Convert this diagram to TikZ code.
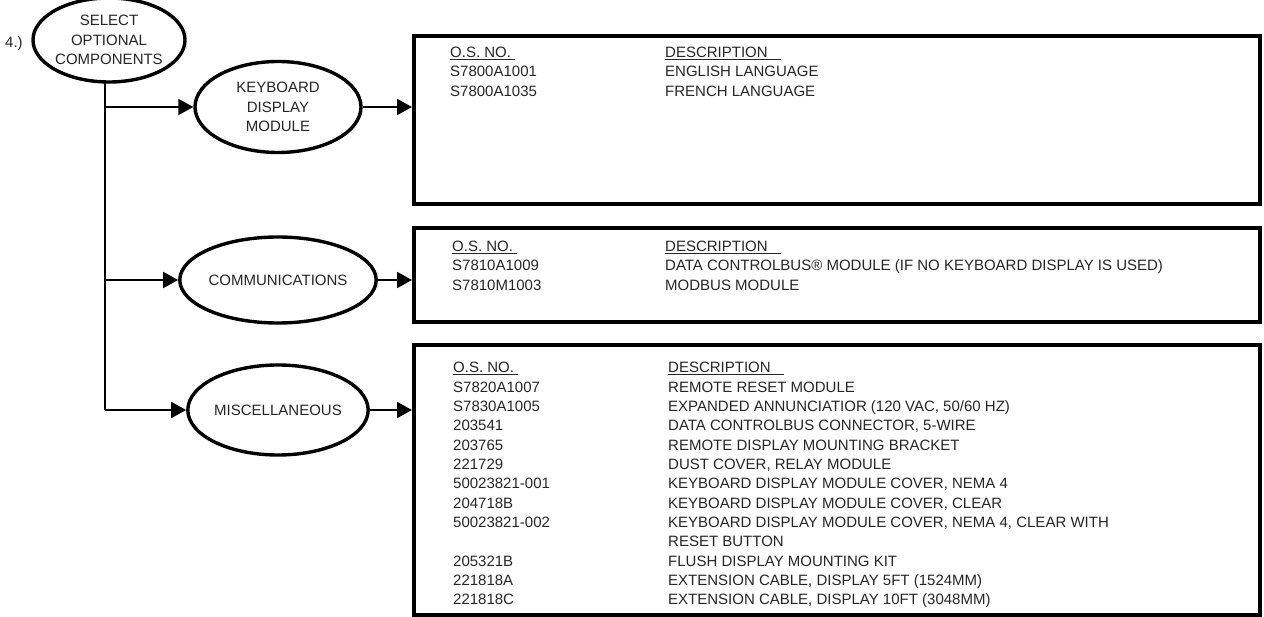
\documentclass[tikz,border=0pt]{standalone}
\usepackage{fontspec}
\setmainfont{Liberation Sans}
\usetikzlibrary{arrows.meta,shapes.geometric}
\newcommand\tabrow[6]{\node[rowtext] (#1a) at (#2,#4) {#5}; \node[rowtext] (#1b) at (#3,#4) {#6};}
\begin{document}
\begin{tikzpicture}[x=1pt,y=-1pt,
  txt/.style={font=\fontsize{15}{19.5}\selectfont, text=black!85},
  oval/.style={draw, ellipse, line width=3.4pt, inner sep=0pt, align=center, txt},
  optbox/.style={draw, rectangle, line width=4pt, inner sep=0pt},
  rowtext/.style={txt, anchor=base west, inner sep=0pt},
  conn/.style={line width=2pt},
  arr/.style={conn, -{Triangle[length=15pt,width=16pt]}}]
\useasboundingbox (0,0) rectangle (1264,617);

% ovals
\node[oval, minimum width=152pt, minimum height=84pt] (sel) at (109,40) {SELECT\\OPTIONAL\\COMPONENTS};
\node[txt, anchor=base west, inner sep=0pt] (num) at (5,48) {4.)};
\node[oval, minimum width=166pt, minimum height=91pt] (kbd) at (278,107) {KEYBOARD\\DISPLAY\\MODULE};
\node[oval, minimum width=166pt, minimum height=86pt] (com) at (278,280) {COMMUNICATIONS};
\node[oval, minimum width=166pt, minimum height=90pt] (misc) at (278,410) {MISCELLANEOUS};

% boxes
\node[optbox, minimum width=846pt, minimum height=168pt] (box1) at (837,120) {};
\node[optbox, minimum width=846pt, minimum height=94pt] (box2) at (837,275) {};
\node[optbox, minimum width=846pt, minimum height=270pt] (box3) at (837,480) {};

% trunk and branches
\coordinate (j0) at (105,81);
\coordinate (j1) at (105,107);
\coordinate (j2) at (105,280);
\coordinate (j3) at (105,410);
\draw[conn] (j0) -- (j3);
\draw[arr] (j1) -- (kbd.west);
\draw[arr] (j2) -- (com.west);
\draw[arr] (j3) -- (misc.west);
\draw[arr] (kbd.east) -- (kbd.east -| box1.west);
\draw[arr] (com.east) -- (com.east -| box2.west);
\draw[arr] (misc.east) -- (misc.east -| box3.west);

% box 1 text
\tabrow{p0}{450}{665}{57.3}{\underline{O.S. NO.\ }}{\underline{DESCRIPTION\hspace{13pt}}}
\tabrow{p1}{450}{665}{76.8}{S7800A1001}{ENGLISH LANGUAGE}
\tabrow{p2}{450}{665}{96.3}{S7800A1035}{FRENCH LANGUAGE}

% box 2 text
\tabrow{q0}{452}{665}{251.5}{\underline{O.S. NO.\ }}{\underline{DESCRIPTION\hspace{13pt}}}
\tabrow{q1}{452}{665}{270.8}{S7810A1009}{DATA CONTROLBUS® MODULE (IF NO KEYBOARD DISPLAY IS USED)}
\tabrow{q2}{452}{665}{290.1}{S7810M1003}{MODBUS MODULE}

% box 3 text
\tabrow{r0}{453}{668}{372.7}{\underline{O.S. NO.\ }}{\underline{DESCRIPTION\hspace{13pt}}}
\tabrow{r1}{453}{668}{392.05}{S7820A1007}{REMOTE RESET MODULE}
\tabrow{r2}{453}{668}{411.4}{S7830A1005}{EXPANDED ANNUNCIATIOR (120 VAC, 50/60 HZ)}
\tabrow{r3}{453}{668}{430.75}{203541}{DATA CONTROLBUS CONNECTOR, 5-WIRE}
\tabrow{r4}{453}{668}{450.1}{203765}{REMOTE DISPLAY MOUNTING BRACKET}
\tabrow{r5}{453}{668}{469.45}{221729}{DUST COVER, RELAY MODULE}
\tabrow{r6}{453}{668}{488.8}{50023821-001}{KEYBOARD DISPLAY MODULE COVER, NEMA 4}
\tabrow{r7}{453}{668}{508.15}{204718B}{KEYBOARD DISPLAY MODULE COVER, CLEAR}
\tabrow{r8}{453}{668}{527.5}{50023821-002}{KEYBOARD DISPLAY MODULE COVER, NEMA 4, CLEAR WITH}
\node[rowtext] (r9b) at (668,546.85) {RESET BUTTON};
\tabrow{r10}{453}{668}{566.2}{205321B}{FLUSH DISPLAY MOUNTING KIT}
\tabrow{r11}{453}{668}{585.55}{221818A}{EXTENSION CABLE, DISPLAY 5FT (1524MM)}
\tabrow{r12}{453}{668}{604.9}{221818C}{EXTENSION CABLE, DISPLAY 10FT (3048MM)}
\end{tikzpicture}
\end{document}
